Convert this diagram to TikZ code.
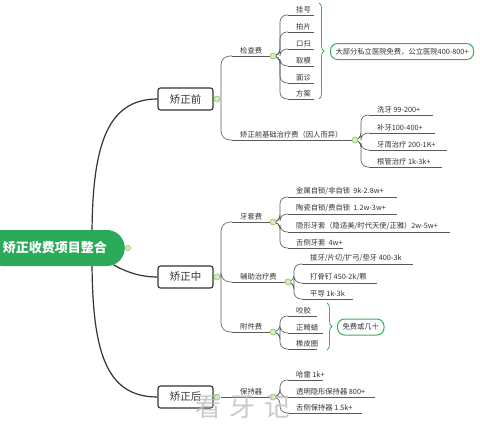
\documentclass[tikz,border=0pt]{standalone}
\usepackage{fontspec}
\setmainfont{Noto Sans CJK SC}
\usepackage{tikz}
\usetikzlibrary{positioning,calc,decorations.pathreplacing}
\definecolor{rootgreen}{HTML}{2BAA5A}
\definecolor{lnk}{HTML}{5A5A5A}
\definecolor{ink}{HTML}{333333}
\definecolor{knobc}{HTML}{8CC65E}
\definecolor{sumgreen}{HTML}{3DAE5E}
\definecolor{wmark}{HTML}{BDBDBD}
\tikzset{
  root/.style={rectangle, rounded corners=18pt, fill=rootgreen, text=white,
               font=\fontsize{13}{15}\selectfont\bfseries, minimum height=36pt, inner xsep=18pt},
  lvl/.style={rectangle, rounded corners=2.5pt, draw=ink, line width=1.1pt, fill=white,
              minimum width=55pt, minimum height=22pt, font=\fontsize{10.5}{12}\selectfont, text=ink},
  knob/.style={circle, draw=knobc, fill=knobc!35, line width=0.6pt, minimum size=6pt, inner sep=0pt},
  topic/.style={anchor=south west, inner xsep=0pt, inner ysep=1.8pt,
                font=\fontsize{7.3}{8}\selectfont, text=ink},
  ul/.style={draw=lnk, line width=0.6pt},
  link/.style={draw=lnk, line width=0.6pt, rounded corners=7pt},
  trunk/.style={draw=ink, line width=1.2pt},
  brc/.style={draw=sumgreen, line width=0.8pt, decorate, decoration={brace, amplitude=5pt}},
  note/.style={rectangle, rounded corners=7pt, draw=sumgreen, line width=1pt, fill=white,
               minimum height=16pt, inner xsep=5pt, inner ysep=1pt,
               font=\fontsize{7.3}{8}\selectfont, text=ink}
}
% topic on an underline: name, line start x, line y, line end x, text
\newcommand{\topic}[5]{%
  \coordinate (#1) at (#2,#3);
  \node[topic] (#1-t) at (#2+8,#3) {#5};
  \draw[ul] (#1) -- (#4,#3);}

\begin{document}
\begin{tikzpicture}[x=1pt, y=-1pt]
  \useasboundingbox (0,0) rectangle (480,434);
  \clip (0,0) rectangle (480,434);
  \fill[white] (0,0) rectangle (480,434);

  % main branches
  \node[lvl] (pre) at (185.5,99) {矫正前};
  \node[lvl] (mid) at (185.5,277) {矫正中};
  \node[lvl] (post) at (185.5,397) {矫正后};
  \draw[trunk] (92,238) .. controls (92,150) and (105,99) .. (pre.west);
  \draw[trunk] (100,255) .. controls (115,268) and (135,277) .. (mid.west);
  \draw[trunk] (92,258) .. controls (92,350) and (105,397) .. (post.west);
  \node[root, anchor=east] (root) at (125,248) {矫正收费项目整合};
  \node[knob, minimum size=5pt] (root-k) at (128,248) {};

  % 矫正前
  \topic{chk}{232}{56}{270}{检查费}
  \topic{base}{232}{140}{352}{矫正前基础治疗费（因人而异）}
  \draw[link, rounded corners=9pt] (221,99) |- (chk);
  \draw[link, rounded corners=9pt] (221,99) |- (base);
  \node[knob] (pre-k) at (217,99) {};
  \topic{gh}{288}{15}{314}{挂号}
  \topic{pp}{288}{32}{314}{拍片}
  \topic{ks}{288}{49}{314}{口扫}
  \topic{qm}{288}{66}{314}{取模}
  \topic{mz}{288}{83}{314}{面诊}
  \topic{fa}{288}{99}{314}{方案}
  \foreach \t in {gh,pp,ks,qm,mz,fa}
    \draw[link] (273,56) -- (280,56) |- (\t);
  \node[knob] (chk-k) at (273,56) {};
  \draw[brc] (319,3) -- (319,99);
  \node[note, anchor=west] (free1) at (330,51.5) {大部分私立医院免费，公立医院400-800+};
  \topic{xy}{369}{115}{433}{洗牙 99-200+}
  \topic{by}{369}{133}{435}{补牙100-400+}
  \topic{yz}{369}{150}{447}{牙周治疗 200-1K+}
  \topic{gg}{369}{167}{442}{根管治疗 1k-3k+}
  \foreach \t in {xy,by,yz,gg}
    \draw[link] (355,140) -- (361,140) |- (\t);
  \node[knob] (base-k) at (355,140) {};

  % 矫正中
  \topic{tao}{232}{222}{270}{牙套费}
  \topic{aux}{232}{282}{285}{辅助治疗费}
  \topic{att}{232}{332}{270}{附件费}
  \foreach \t in {tao,aux,att}
    \draw[link, rounded corners=9pt] (221,277) |- (\t);
  \node[knob] (mid-k) at (217,277) {};
  \topic{jsz}{288}{197}{397}{金属自锁/非自锁~~9k-2.8w+}
  \topic{tcz}{288}{214}{397}{陶瓷自锁/费自锁~~1.2w-3w+}
  \topic{yxt}{288}{232}{450}{隐形牙套（隐适美/时代天使/正雅）2w-5w+}
  \topic{scd}{288}{248}{343}{舌侧牙套~~4w+}
  \foreach \t in {jsz,tcz,yxt,scd}
    \draw[link] (273,222) -- (280,222) |- (\t);
  \node[knob] (tao-k) at (273,222) {};
  \topic{by2}{302}{264}{413}{拔牙/片切/扩弓/垫牙 400-3k}
  \topic{dgd}{302}{283}{377}{打骨钉 450-2k/颗}
  \topic{pd}{302}{299}{353}{平导 1k-3k}
  \foreach \t in {by2,dgd,pd}
    \draw[link] (288,282) -- (294,282) |- (\t);
  \node[knob] (aux-k) at (288,282) {};
  \topic{yj}{288}{316}{317}{咬胶}
  \topic{zjl}{288}{333}{323}{正畸蜡}
  \topic{xpq}{288}{349}{317}{橡皮圈}
  \foreach \t in {yj,zjl,xpq}
    \draw[link] (273,332) -- (280,332) |- (\t);
  \node[knob] (att-k) at (273,332) {};
  \draw[brc] (327,303) -- (327,350);
  \node[note, anchor=west] (free2) at (337,327) {免费或几十};

  % 矫正后
  \topic{keep}{232}{397}{270}{保持器}
  \draw[link] (221,397) -- (keep);
  \node[knob] (post-k) at (217,397) {};
  \topic{hl}{288}{380}{323}{哈雷 1k+}
  \topic{tm}{288}{397}{375}{透明隐形保持器 800+}
  \topic{sc}{288}{413}{362}{舌侧保持器 1.5k+}
  \foreach \t in {hl,tm,sc}
    \draw[link] (273,397) -- (280,397) |- (\t);
  \node[knob] (keep-k) at (273,397) {};

  % watermark
  \node[text=wmark, opacity=0.8, font=\fontsize{26}{27}\selectfont] (wm) at (243,407) {看\hspace{9pt}牙\hspace{9pt}记};
\end{tikzpicture}
\end{document}
